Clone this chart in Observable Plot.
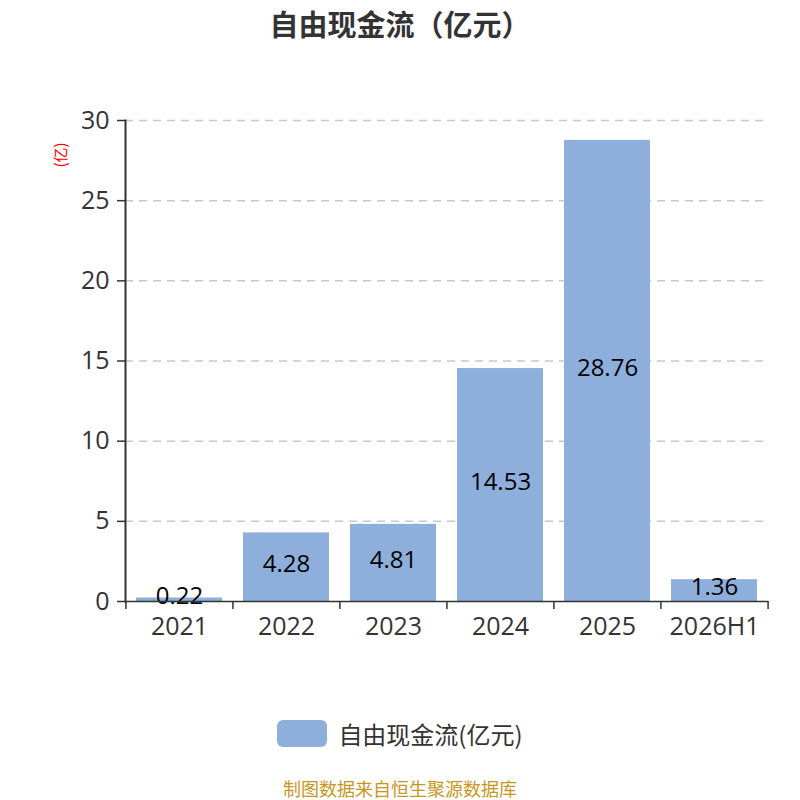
<!DOCTYPE html>
<html><head><meta charset="utf-8">
<script src="https://cdn.jsdelivr.net/npm/d3@7"></script>
<script src="https://cdn.jsdelivr.net/npm/@observablehq/plot@0.6"></script>
<style>
body{margin:0;background:#fff;font-family:"Open Sans","Noto Sans CJK SC",sans-serif;}
#wrap{position:relative;width:800px;height:800px;overflow:hidden;background:#fff;}
#title{position:absolute;z-index:2;top:2px;left:0;width:800px;text-align:center;font-size:29px;font-weight:bold;color:#333;font-family:"Noto Sans CJK SC",sans-serif;}
#chart{position:absolute;z-index:1;top:0;left:0;}
#legend{position:absolute;z-index:2;top:716px;left:0;width:800px;display:flex;justify-content:center;align-items:center;font-size:24px;color:#333;font-family:"Noto Sans CJK SC",sans-serif;}
#legend .sw{width:50px;height:27px;border-radius:6px;background:#8eaedb;margin-right:11px;}
#caption{position:absolute;z-index:2;top:775px;left:0;width:800px;text-align:center;font-size:18px;color:#c8961e;font-family:"Noto Sans CJK SC",sans-serif;}
</style></head>
<body><div id="wrap">
<div id="chart"></div>
<div id="title">自由现金流（亿元）</div>
<div id="legend"><div class="sw"></div><span>自由现金流(亿元)</span></div>
<div id="caption">制图数据来自恒生聚源数据库</div>
</div>
<script>
const categories = ["2021","2022","2023","2024","2025","2026H1"];
const values = [0.22, 4.28, 4.81, 14.53, 28.76, 1.36];
const yTicks = [0,5,10,15,20,25,30];
const labels = ["0.22","4.28","4.81","14.53","28.76","1.36"];

const data = categories.map((c,i)=>({cat:c, v:values[i], label:labels[i]}));
const W = 800, mL = 125, mR = 32;
const step = (W - mL - mR) / categories.length;

const chart = Plot.plot({
  width: W, height: 680,
  marginLeft: mL, marginRight: mR, marginTop: 120, marginBottom: 79,
  style: {fontFamily: '"Open Sans","Noto Sans CJK SC",sans-serif', background: "transparent"},
  x: {domain: categories, paddingInner: 0.2, paddingOuter: 0.1, label: null},
  y: {domain: [0,30], ticks: yTicks, label: null},
  marks: [
    Plot.ruleY(yTicks.filter(t=>t>0), {stroke:"#c8c8c8", strokeWidth:1.5, strokeDasharray:"8,6"}),
    Plot.barY(data, {x:"cat", y:"v", fill:"#8eaedb"}),
    Plot.text(data, {x:"cat", y: d=>d.v/2, text:"label", fill:"#000", fontSize:24, dy:-3}),
    Plot.axisY({ticks: yTicks, tickSize: 8, tickPadding: 8, fontSize: 25, fill:"#333", stroke:"#333", strokeWidth:1.5}),
    Plot.axisX({tickSize: 0, tickPadding: 16, fontSize: 25, fill:"#333"}),
    Plot.axisX({tickSize: 8, text: null, dx: -step/2, stroke:"#333", strokeWidth:1.5}),
    Plot.axisX({ticks: [categories[categories.length-1]], tickSize: 8, text: null, dx: step/2, stroke:"#333", strokeWidth:1.5}),
    Plot.ruleY([0], {stroke:"#333", strokeWidth:1.5}),
    Plot.frame({anchor:"left", stroke:"#333", strokeWidth:2})
  ]
});
document.getElementById("chart").appendChild(chart);
const svg = d3.select(chart);
svg.append("text").attr("transform","translate(66,155) rotate(-90)")
  .attr("text-anchor","middle").attr("fill","red").attr("font-size",15)
  .attr("font-family",'"Noto Sans CJK SC",sans-serif').text("(亿)");
</script>
</body></html>
